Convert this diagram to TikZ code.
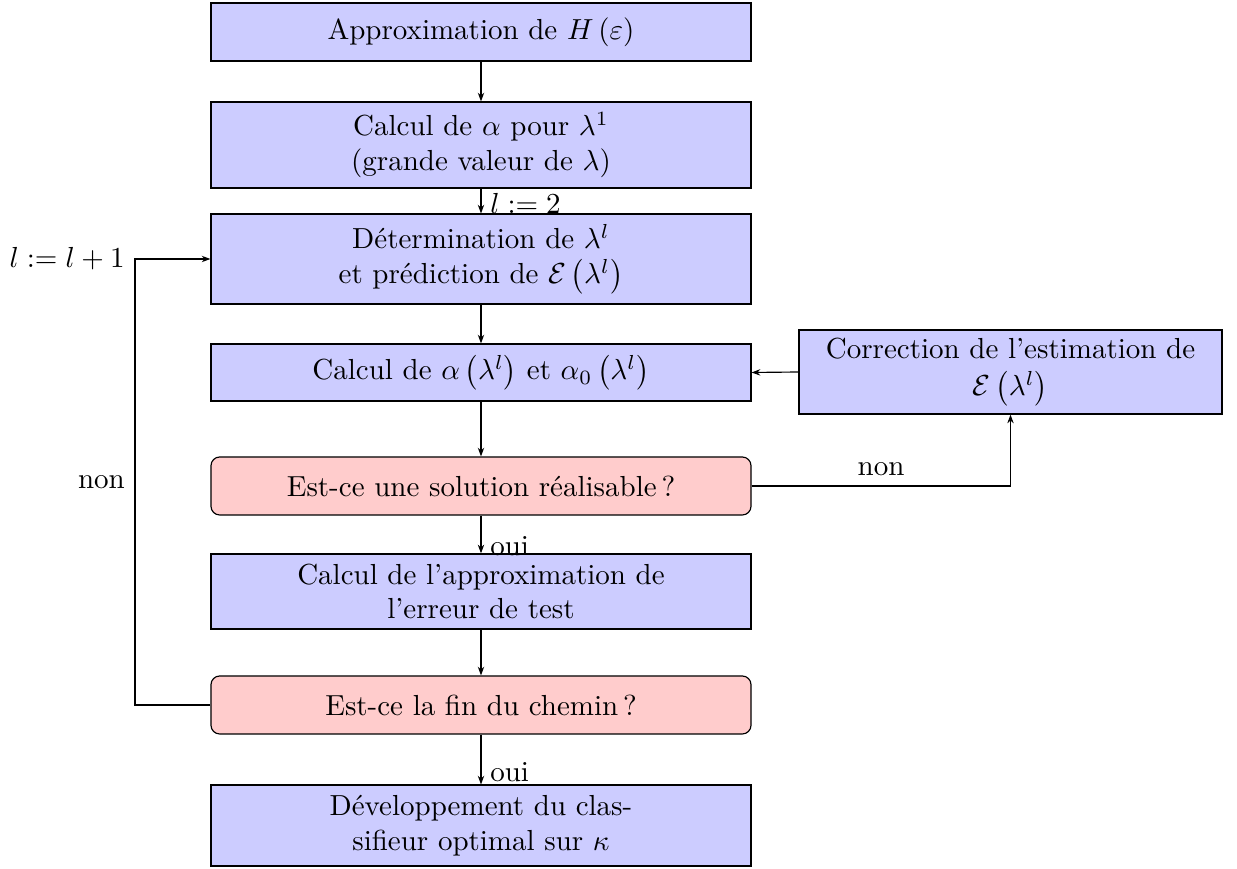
\documentclass[tikz,border=0pt]{standalone}
\usetikzlibrary{arrows.meta}
\begin{document}
\begin{tikzpicture}[x=0.3448pt,y=-0.3448pt,
  box/.style={draw, fill=blue!20, minimum width=186.2pt, align=center, inner sep=0pt},
  test/.style={draw, fill=red!20, rounded corners=3pt, minimum width=186.2pt, minimum height=20pt, align=center, inner sep=0pt},
  arr/.style={-{Stealth[length=3pt,width=2.2pt]}},
  lbl/.style={inner sep=3pt}]
\useasboundingbox (0,0) rectangle (1237,869);
\node[box, minimum height=20pt] (a) at (481,32) {Approximation de $H\left(\varepsilon\right)$};
\node[box, minimum height=29.65pt] (b) at (481,145) {Calcul de $\alpha$ pour $\lambda^1$\\(grande valeur de $\lambda$)};
\node[box, minimum height=31pt] (c) at (481,259) {Détermination de $\lambda^l$\\et prédiction de $\mathcal{E}\left(\lambda^l\right)$};
\node[box, minimum height=19.65pt] (d) at (481,372.5) {Calcul de $\alpha\left(\lambda^l\right)$ et $\alpha_0\left(\lambda^l\right)$};
\node[test] (e) at (481,486) {Est-ce une solution réalisable\,?};
\node[box, minimum height=25.9pt] (f) at (481,591.5) {Calcul de l'approximation de\\l'erreur de test};
\node[test] (g) at (481,705) {Est-ce la fin du chemin\,?};
\node[box, minimum height=27.9pt] (h) at (481,825.5) {Développement du clas-\\sifieur optimal sur $\kappa$};
\node[box, minimum width=145.9pt, minimum height=29pt] (k) at (1010.5,372) {Correction de l'estimation de\\[1pt]$\mathcal{E}\left(\lambda^l\right)$};
\coordinate (lp) at (135,0);

\draw[arr] (a) -- (b);
\draw[arr] (b) -- node[pos=0.6, right, lbl]{$l:=2$} (c);
\draw[arr] (c) -- (d);
\draw[arr] (d) -- (e);
\draw[arr] (e) -- node[pos=0.8, right, lbl]{oui} (f);
\draw[arr] (f) -- (g);
\draw[arr] (g) -- node[pos=0.76, right, lbl]{oui} (h);
\draw[arr] (e.east) -| node[pos=0.25, above]{non} (k.south);
\draw[arr] (k.west) -- (d.east);
\draw[arr] (g.west) -- (g.west -| lp) |- node[pos=0.25, left]{non} node[pos=0.5, left]{$l := l + 1$} (c.west);
\end{tikzpicture}
\end{document}
